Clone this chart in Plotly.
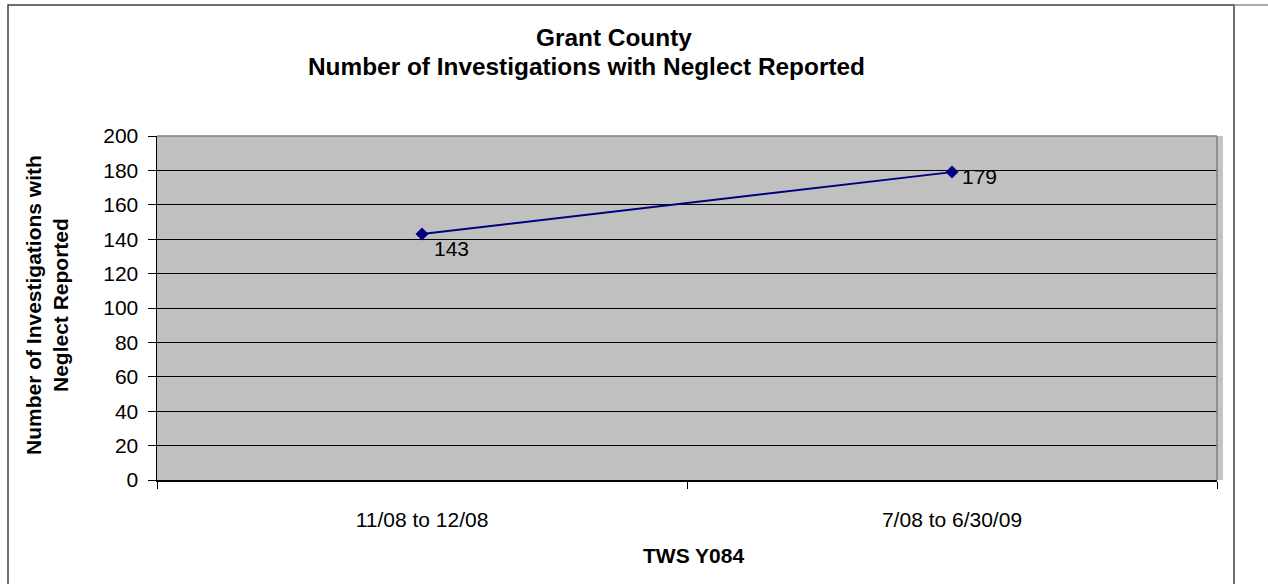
import plotly.graph_objects as go

categories = ["11/08 to 12/08", "7/08 to 6/30/09"]
values = [143, 179]
y_ticks = [0, 20, 40, 60, 80, 100, 120, 140, 160, 180, 200]
title_line1 = "Grant County"
title_line2 = "Number of Investigations with Neglect Reported"
x_title = "TWS Y084"
y_title = "Number of Investigations with<br>Neglect Reported"

W, H = 1268, 584
L, T, R, B = 157, 136, 1217, 480
pw, ph = R - L, B - T


def px(x):
    return (x - L) / pw


def py(y):
    return (B - y) / ph


FONT = "Liberation Sans, Arial, sans-serif"
NAVY = "#000080"
TICK_SIZE = 21

fig = go.Figure()
fig.add_trace(go.Scatter(
    x=categories, y=values, mode="lines+markers",
    line=dict(color=NAVY, width=2),
    marker=dict(symbol="diamond", size=10, color=NAVY),
    showlegend=False, hoverinfo="skip",
))

annotations = []
# data labels
offsets = [(10, -14), (8, -4)]
for c, v, (dx, dy) in zip(categories, values, offsets):
    annotations.append(dict(
        x=c, y=v, xref="x", yref="y", text=str(v), showarrow=False,
        xanchor="left", yanchor="middle", xshift=dx, yshift=dy,
        font=dict(family=FONT, size=TICK_SIZE, color="black"),
    ))
# chart title
annotations.append(dict(
    x=px(614), y=py(38), xref="paper", yref="paper", text="<b>%s</b>" % title_line1,
    showarrow=False, xanchor="center", yanchor="middle",
    font=dict(family=FONT, size=24.4, color="black"),
))
annotations.append(dict(
    x=px(586), y=py(66), xref="paper", yref="paper", text="<b>%s</b>" % title_line2,
    showarrow=False, xanchor="center", yanchor="middle",
    font=dict(family=FONT, size=24.4, color="black"),
))
# y axis title
annotations.append(dict(
    x=px(47), y=py(305), xref="paper", yref="paper", text="<b>%s</b>" % y_title,
    showarrow=False, xanchor="center", yanchor="middle", textangle=-90,
    font=dict(family=FONT, size=21, color="black"),
))
# x axis title
annotations.append(dict(
    x=px(693), y=py(555), xref="paper", yref="paper", text="<b>%s</b>" % x_title,
    showarrow=False, xanchor="center", yanchor="middle",
    font=dict(family=FONT, size=21, color="black"),
))

shapes = [
    # shadow strip right of plot area
    dict(type="rect", xref="paper", yref="paper", x0=1, x1=px(1223), y0=0, y1=1,
         fillcolor="#C4C4C4", line=dict(width=0), layer="below"),
    # plot border top & right (gray)
    dict(type="line", xref="paper", yref="paper", x0=0, x1=1, y0=1, y1=1,
         line=dict(color="#808080", width=1.5)),
    dict(type="line", xref="paper", yref="paper", x0=1, x1=1, y0=0, y1=1,
         line=dict(color="#808080", width=1.5)),
    # outer chart border
    dict(type="rect", xref="paper", yref="paper", x0=px(8), x1=px(1234), y0=py(600), y1=py(5),
         line=dict(color="#404040", width=1.5), fillcolor="rgba(0,0,0,0)"),
    dict(type="line", xref="paper", yref="paper", x0=px(1234), x1=px(1270), y0=py(5), y1=py(5),
         line=dict(color="#909090", width=1.5)),
]

fig.update_layout(
    width=W, height=H,
    margin=dict(l=L, r=W - R, t=T, b=H - B, pad=0),
    paper_bgcolor="white", plot_bgcolor="#C0C0C0",
    font=dict(family=FONT, size=TICK_SIZE, color="black"),
    annotations=annotations, shapes=shapes,
    xaxis=dict(
        type="category", range=[-0.5, 1.5], tickson="boundaries",
        ticks="outside", ticklen=7, tickcolor="black", tickwidth=1,
        showline=True, linecolor="black", linewidth=1.5,
        showgrid=False, zeroline=False, fixedrange=True,
        ticklabelstandoff=20,
        tickfont=dict(family=FONT, size=TICK_SIZE, color="black"),
    ),
    yaxis=dict(
        range=[0, 200], tickvals=y_ticks, ticktext=[str(t) for t in y_ticks],
        ticks="outside", ticklen=8, tickcolor="black", tickwidth=1,
        showline=True, linecolor="black", linewidth=1.5,
        showgrid=True, gridcolor="black", gridwidth=1, zeroline=False,
        ticklabelstandoff=5, fixedrange=True,
        tickfont=dict(family=FONT, size=TICK_SIZE, color="black"),
    ),
)

fig.write_html(
    "out.html",
    config={"displayModeBar": False, "staticPlot": True},
    post_script="document.body.style.margin='0';document.body.style.padding='0';",
)
